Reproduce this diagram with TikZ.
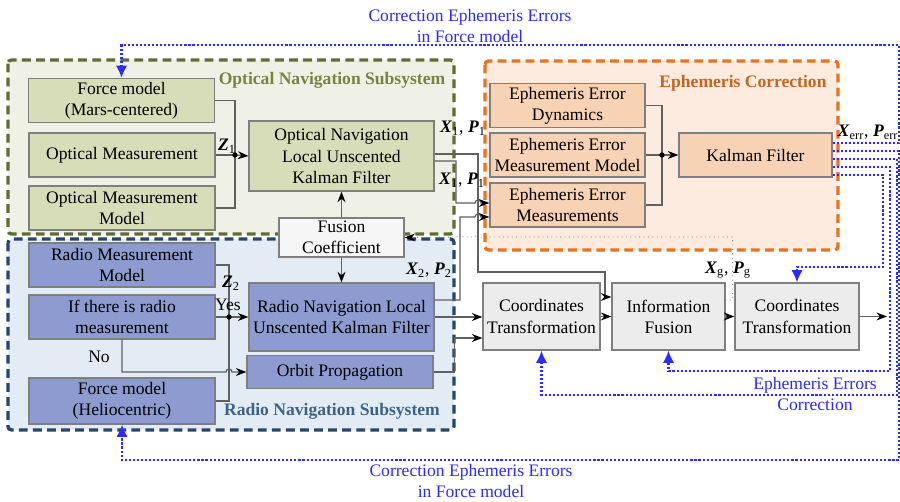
\documentclass[tikz,border=0pt]{standalone}
\usepackage{fontspec}
\setmainfont{Liberation Serif}
\usetikzlibrary{calc,arrows.meta}

\definecolor{optbg}{HTML}{EFF1E6}
\definecolor{optline}{HTML}{5E6E33}
\definecolor{opttitle}{HTML}{768443}
\definecolor{optnode}{HTML}{D7DDB8}
\definecolor{radbg}{HTML}{E3ECF5}
\definecolor{radline}{HTML}{26476A}
\definecolor{radtitle}{HTML}{3E6285}
\definecolor{radnode}{HTML}{8D9BD0}
\definecolor{ephbg}{HTML}{FCEBDE}
\definecolor{ephline}{HTML}{E8731F}
\definecolor{ephtitle}{HTML}{C6651F}
\definecolor{ephnode}{HTML}{F8D2B4}
\definecolor{fusnode}{HTML}{ECECEC}
\definecolor{coefnode}{HTML}{F6F6F6}
\definecolor{blkline}{HTML}{7F7F7F}
\definecolor{wirecol}{HTML}{606060}
\definecolor{corrblue}{HTML}{2B2BFF}

\newcommand{\est}[2]{\textbf{\textit{#1}}\textsubscript{#2}}

\begin{document}
\begin{tikzpicture}[x=0.02cm,y=-0.02cm,
    every node/.style={font=\fontsize{10}{12}\selectfont,align=center,inner sep=1pt},
    blk/.style={draw=blkline,line width=0.7pt,minimum width=3.72cm,minimum height=0.88cm},
    optblk/.style={blk,fill=optnode},
    radblk/.style={blk,fill=radnode},
    ephblk/.style={blk,fill=ephnode,minimum width=3.1cm},
    fusblk/.style={blk,fill=fusnode,minimum height=1.34cm},
    group/.style={line width=1.9pt,dash pattern=on 5pt off 3pt,rounded corners=2pt},
    title/.style={font=\fontsize{10}{12}\selectfont\bfseries},
    wire/.style={draw=wirecol,line width=0.7pt},
    arr/.style={wire,-{Stealth[length=6pt,width=4.5pt,color=black]}},
    feed/.style={draw=gray,line width=0.5pt,dotted,-{Stealth[length=6pt,width=4.5pt,color=black]}},
    corr/.style={draw=corrblue,line width=1.2pt,dash pattern=on 1.2pt off 1.1pt,
      -{Latex[length=7pt,width=6.5pt]}},
    corrtext/.style={text=corrblue},
    dot/.style={fill=black}]

  \useasboundingbox (0,0) rectangle (900,502);

  \draw[group,draw=optline,fill=optbg] (8,60) rectangle (454,234);
  \draw[group,draw=radline,fill=radbg] (8,239) rectangle (454,430);
  \draw[group,draw=ephline,fill=ephbg] (485,61) rectangle (838,250);

  \node[title,text=opttitle] (optTitle) at (332,80) {Optical Navigation Subsystem};
  \node[title,text=radtitle] (radTitle) at (332,411) {Radio Navigation Subsystem};
  \node[title,text=ephtitle] (ephTitle) at (743,83) {Ephemeris Correction};

  \node[optblk] (fmMars) at (121.5,100.5) {Force model\\(Mars-centered)};
  \node[optblk] (optMeas) at (122,155) {Optical Measurement};
  \node[optblk] (optModel) at (122,208) {Optical Measurement\\Model};
  \node[optblk,minimum width=3.7cm,minimum height=1.4cm] (optUkf) at (341.5,156)
    {Optical Navigation\\Local Unscented\\Kalman Filter};
  \node[blk,fill=coefnode,minimum width=2.5cm,minimum height=0.78cm] (fusCoef) at (341.5,237.5)
    {Fusion\\Coefficient};

  \node[radblk] (radModel) at (122,265) {Radio Measurement\\Model};
  \node[radblk] (ifRadio) at (122,317) {If there is radio\\measurement};
  \node[radblk,minimum height=0.92cm] (fmHelio) at (122,401) {Force model\\(Heliocentric)};
  \node[radblk,minimum width=3.7cm,minimum height=1.36cm] (radUkf) at (341.5,317)
    {Radio Navigation Local\\Unscented Kalman Filter};
  \node[radblk,minimum height=0.66cm] (orbProp) at (340,372) {Orbit Propagation};

  \node[ephblk] (eeDyn) at (567.5,105.5) {Ephemeris Error\\Dynamics};
  \node[ephblk] (eeModel) at (567.5,155) {Ephemeris Error\\Measurement Model};
  \node[ephblk] (eeMeas) at (567.5,205) {Ephemeris Error\\Measurements};
  \node[ephblk,minimum width=3.06cm] (kf) at (755.5,155) {Kalman Filter};

  \node[fusblk,minimum width=2.34cm] (ct1) at (541.5,316.5) {Coordinates\\Transformation};
  \node[fusblk,minimum width=2.26cm] (infFus) at (668.5,316.5) {Information\\Fusion};
  \node[fusblk,minimum width=2.48cm] (ct2) at (797,316.5) {Coordinates\\Transformation};

  \coordinate (jz1) at (235,155);
  \coordinate (jz2) at (229,317);
  \coordinate (je) at (662,155);
  \coordinate (busA) at (478,272);
  \coordinate (busB) at (605,272);
  \coordinate (outEnd) at (887,316.5);

  \draw[wire] (fmMars.east) -| (jz1) |- (optModel.east);
  \draw[wire] (optMeas.east) -- (jz1);
  \draw[arr] (jz1) -- (optUkf.west);
  \fill[dot] (jz1) circle (1.5pt);

  \draw[wire] (eeDyn.east) -| (je) |- (eeMeas.east);
  \draw[wire] (eeModel.east) -- (je);
  \draw[arr] (je) -- (kf.west);
  \fill[dot] (je) circle (1.5pt);

  \draw[wire] (radModel.east) -| (jz2) |- (fmHelio.east);
  \draw[wire] (ifRadio.east) -- (jz2);
  \draw[arr] (jz2) -- (radUkf.west);
  \fill[dot] (jz2) circle (1.5pt);
  \draw[arr] (ifRadio.south) |- (226,372) arc[start angle=180,end angle=0,radius=0.06cm]
    -- (orbProp.west);

  \draw[arr] (fusCoef.north) -- (optUkf.south);
  \draw[arr] (fusCoef.south) -- (radUkf.north);

  \draw[arr] ($(optUkf.east)+(0,-2)$) -| (busA) -- (busB) |- ($(infFus.west)+(0,-19.5)$);
  \draw[arr] ($(optUkf.east)+(0,5)$) -- (456,161) |- (475,203)
    arc[start angle=180,end angle=0,radius=0.06cm] -- ($(eeMeas.west)+(0,-2)$);
  \draw[arr] ($(radUkf.east)+(0,-17)$) -- (460,300) |- (475,217)
    arc[start angle=180,end angle=0,radius=0.06cm] -- ($(eeMeas.west)+(0,12)$);
  \draw[arr] (radUkf.east) -- (radUkf.east -| ct1.west);
  \draw[arr] (orbProp.east) -- ++(21,0) |- ($(ct1.west)+(0,21.5)$);
  \draw[arr] (ct1.east) -- (infFus.west);
  \draw[arr] (infFus.east) -- (ct2.west);
  \draw[arr] (ct2.east) -- (outEnd);

  \draw[feed] ($(infFus.east)+(0,-16.5)$) -- ++(7,0) |- (481,237)
    arc[start angle=0,end angle=180,radius=0.06cm] -- (463,237)
    arc[start angle=0,end angle=180,radius=0.06cm] -- (fusCoef.east);

  \draw[corr] ($(kf.east)+(0,-12)$) -| (899,45) -| (fmMars.north);
  \draw[corr] ($(kf.east)+(0,-4)$) -| (899,460) -| (fmHelio.south);
  \draw[corr] ($(kf.east)+(0,4)$) -| (897,395) -| (ct1.south);
  \draw[corr] ($(kf.east)+(0,12)$) -| (890,371) -| (infFus.south);
  \draw[corr] ($(kf.east)+(0,20)$) -| (883,267) -| (ct2.north);

  \node (z1) at (227,146) {\est{Z}{1}};
  \node (z2) at (231,283) {\est{Z}{2}};
  \node (yes) at (228,305) {Yes};
  \node (no) at (99,357) {No};
  \node (xp1a) at (463,128) {\est{X}{1}, \est{P}{1}};
  \node (xp1b) at (462,180) {\est{X}{1}, \est{P}{1}};
  \node (xp2) at (429,270) {\est{X}{2}, \est{P}{2}};
  \node (xpg) at (728,270) {\est{X}{g}, \est{P}{g}};
  \node (xperr) at (868,132) {\est{X}{err}, \est{P}{err}};

  \node[corrtext] (corrTop) at (470,26) {Correction Ephemeris Errors\\in Force model};
  \node[corrtext] (corrBot) at (471,481) {Correction Ephemeris Errors\\in Force model};
  \node[corrtext] (corrEph) at (815,394) {Ephemeris Errors\\Correction};
\end{tikzpicture}
\end{document}
